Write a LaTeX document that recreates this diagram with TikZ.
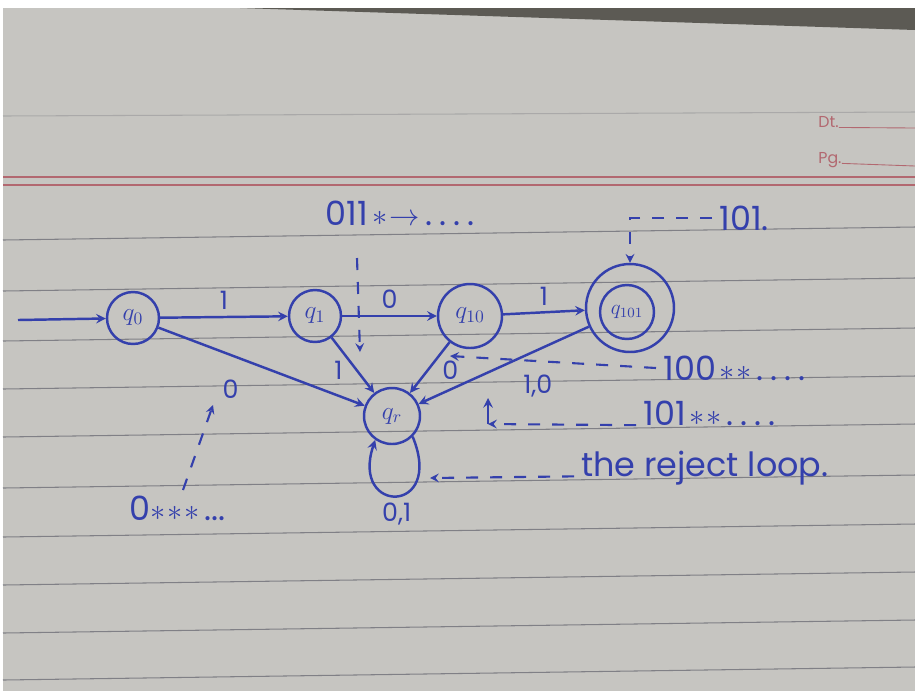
\documentclass[tikz,border=0pt]{standalone}
\usepackage{fontspec}
\setmainfont{Poppins}
\definecolor{ink}{RGB}{52, 64, 172}
\definecolor{paper}{RGB}{198, 197, 193}
\definecolor{shadow}{RGB}{92, 90, 84}
\definecolor{ruling}{RGB}{128, 128, 134}
\definecolor{marginred}{RGB}{178, 104, 112}
\newcommand{\stars}[1]{\foreach \i in {1,...,#1}{${\ast}$\kern1pt}}
\newcommand{\trail}{.\kern4pt.\kern4pt.\kern4pt.}

\begin{document}
\begin{tikzpicture}[
    x=0.02cm, y=-0.02cm,
    state/.style={circle, draw=ink, line width=1.4pt, minimum size=10.4mm, inner sep=0pt, text=ink, font=\Large},
    edge/.style={->, >=stealth, line width=1.4pt, color=ink},
    note/.style={->, >=stealth, line width=1.2pt, color=ink, dash pattern=on 2.4mm off 2.4mm},
    lab/.style={text=ink, font=\Large},
    ann/.style={text=ink, font=\fontsize{19}{22}\selectfont, inner sep=4pt},
    rule/.style={draw=ruling, line width=0.6pt}
]
    \useasboundingbox (0,0) rectangle (915,691);
    \fill[white] (0,0) rectangle (915,691);
    \fill[paper] (3,8) rectangle (915,691);
    \fill[shadow] (240,8) -- (915,8) -- (915,30) -- cycle;

    % notebook page
    \draw[rule, opacity=.4] (3,116) -- (915,112);
    \foreach \y in {232,283,333,381,429,480,529,577,625,672}
        \draw[rule] (3,\y+8) -- (915,\y-5);
    \draw[marginred, line width=0.7pt] (3,177) -- (915,177);
    \draw[marginred, line width=0.7pt] (3,185) -- (915,185);
    \node[text=marginred, font=\small, anchor=west, inner sep=0pt] (dt) at (818,122) {Dt.};
    \draw[marginred, line width=0.5pt] (dt.base east) -- (915,128);
    \node[text=marginred, font=\small, anchor=west, inner sep=0pt] (pg) at (818,160) {Pg.};
    \draw[marginred, line width=0.5pt] (pg.base east) -- (915,166);

    % states
    \node[state] (q0) at (133,318) {$q_0$};
    \node[state] (q1) at (315,316) {$q_1$};
    \node[state, minimum size=12.8mm] (q10) at (470,316) {$q_{10}$};
    \node[state, minimum size=10.8mm, font=\large] (q101) at (627,312) {$q_{101}$};
    \node[state, minimum size=17.6mm] (q101o) at (630,308) {};
    \node[state, minimum size=11.2mm] (qr) at (392,416) {$q_r$};

    % transitions
    \coordinate (start) at (18,320);
    \draw[edge] (start) -- (q0);
    \draw[edge] (q0) -- node[lab, above] {1} (q1);
    \draw[edge] (q1) -- node[lab, above] {0} (q10);
    \draw[edge] (q10) -- node[lab, above] {1} (q101o);
    \draw[edge] (q0) -- node[lab, pos=.35, below=3.5mm] {0} (qr);
    \draw[edge] (q1) -- node[lab, pos=.6, left=1.5mm] {1} (qr);
    \draw[edge] (q10) -- node[lab, pos=.55, right=1.5mm] {0} (qr);
    \draw[edge] (q101o) -- node[lab, pos=.3, below=3.5mm] {1,0} (qr);
    \draw[edge] (qr.315) .. controls (445,515) and (350,515) .. node[lab, below] {0,1} (qr.235);

    % notes
    \node[ann, anchor=west] (n011) at (318,213) {011\kern3pt\stars{1}$\rightarrow$\kern3pt\trail};
    \coordinate (a011) at (357,258);
    \coordinate (b011) at (360,352);
    \draw[note] (a011) -- (b011);

    \node[ann, anchor=west] (n101) at (712,218) {101.};
    \draw[note] (n101.west) -| (q101o.north);

    \node[ann, anchor=west] (n100) at (656,368) {100\kern2pt\stars{2}\kern2pt\trail};
    \coordinate (t100) at (450,356);
    \draw[note] (n100.west) -- (t100);

    \node[ann, anchor=west] (n101b) at (636,413) {101\kern2pt\stars{2}\kern2pt\trail};
    \coordinate (k101) at (488,424);
    \coordinate (t101) at (488,398);
    \draw[note] (n101b.base west) -- (k101);
    \draw[edge] (k101) -- (t101);

    \node[ann, anchor=west] (n0) at (122,508) {0\stars{3}\kern2pt...};
    \coordinate (k0) at (183,490);
    \coordinate (t0) at (213,405);
    \draw[note] (k0) -- (t0);

    \node[ann, anchor=west] (nloop) at (574,468) {the reject loop.};
    \coordinate (tloop) at (430,478);
    \draw[note] (nloop.base west) -- (tloop);
\end{tikzpicture}
\end{document}
